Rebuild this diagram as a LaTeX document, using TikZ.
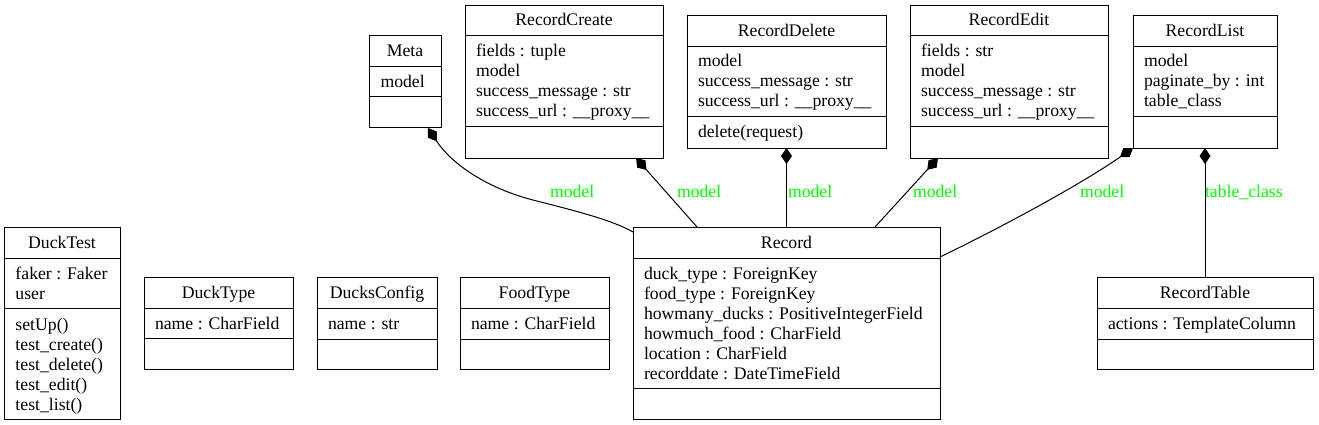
\documentclass[tikz,border=0pt]{standalone}
\usepackage{fontspec}
\setmainfont{Liberation Serif}
\usetikzlibrary{arrows.meta}
\definecolor{lblgreen}{RGB}{0,255,0}
\tikzset{
  classbox/.style={draw=black, line width=1pt, inner sep=0pt, outer sep=0pt, fill=white},
  classline/.style={draw=black, line width=1pt},
  txt/.style={inner sep=0pt, outer sep=0pt, font=\fontsize{17.7}{20}\selectfont},
  elabel/.style={txt, text=lblgreen, anchor=base west},
  comp/.style={draw=black, line width=1pt, {Diamond[length=16pt,width=11pt]}-},
}
\newcommand\umlbox[8]{%
  \node[classbox, minimum width={#4-#2}, minimum height={#5-#3}] (#1) at ({(#2+#4)/2},{(#3+#5)/2}) {};
  \node[txt, anchor=base] (#1-title) at ({(#2+#4)/2},{#6-10}) {#8};
  \draw[classline] (#2,#6) -- (#4,#6);
  \draw[classline] (#2,#7) -- (#4,#7);
}
\newcommand\umlrows[4]{%
  \foreach \t [count=\i from 0] in {#4} {\node[txt, anchor=base west] (#1\i) at (#2, {#3+20*\i}) {\t};}
}
\begin{document}
\begin{tikzpicture}[x=1pt, y=-1pt]
\useasboundingbox (0,0) rectangle (1319,425);

% classes
\umlbox{dt}{4}{227}{120}{419}{258}{308}{DuckTest}
\umlrows{dt-a}{15.5}{279}{faker : Faker, user}
\umlrows{dt-m}{15.5}{330}{setUp(), test\_create(), test\_delete(), test\_edit(), test\_list()}

\umlbox{dty}{144}{277}{293}{369}{308}{338}{DuckType}
\umlrows{dty-a}{155}{329}{name : CharField}

\umlbox{dc}{317}{277}{437}{369}{308}{339}{DucksConfig}
\umlrows{dc-a}{328}{329}{name : str}

\umlbox{ft}{460}{277}{609}{369}{308}{339}{FoodType}
\umlrows{ft-a}{471}{329}{name : CharField}

\umlbox{meta}{369}{36}{441}{128}{67}{97}{Meta}
\umlrows{meta-a}{380.5}{88}{model}

\umlbox{rc}{465}{6}{663}{158}{36}{127}{RecordCreate}
\umlrows{rc-a}{476}{57}{fields : tuple, model, success\_message : str, success\_url : \_\_proxy\_\_}

\umlbox{rd}{687}{16}{886}{148}{47}{117}{RecordDelete}
\umlrows{rd-a}{698}{67}{model, success\_message : str, success\_url : \_\_proxy\_\_}
\umlrows{rd-m}{698}{138}{delete(request)}

\umlbox{re}{910}{6}{1108}{158}{36}{127}{RecordEdit}
\umlrows{re-a}{921}{57}{fields : str, model, success\_message : str, success\_url : \_\_proxy\_\_}

\umlbox{rl}{1133}{16}{1277}{148}{47}{117}{RecordList}
\umlrows{rl-a}{1144}{67}{model, paginate\_by : int, table\_class}

\umlbox{rec}{633}{227}{940}{419}{258}{388}{Record}
\umlrows{rec-a}{644}{279}{duck\_type : ForeignKey, food\_type : ForeignKey, howmany\_ducks : PositiveIntegerField, howmuch\_food : CharField, location : CharField, recorddate : DateTimeField}

\umlbox{rt}{1097}{277}{1313}{369}{308}{339}{RecordTable}
\umlrows{rt-a}{1108}{329}{actions : TemplateColumn}

% connectors
\draw[comp] ([xshift=23pt]meta.south) .. controls (453,166) and (490,189) .. (533,200)
   .. controls (576,211) and (612,220) .. ([yshift=-5pt]rec.north west);
\draw[comp] ([xshift=72pt]rc.south) -- ([xshift=64pt]rec.north west);
\draw[comp] (rd.south) -- (rec.north);
\draw[comp] ([xshift=-71pt]re.south) -- ([xshift=88.5pt]rec.north);
\draw[comp] (rl.south west) .. controls (1080,185) and (1000,228) .. ([yshift=-30pt]rec.north east);
\draw[comp] (rl.south) -- (rt.north);

% labels
\node[elabel] (l1) at (550,197) {model};
\node[elabel] (l2) at (677,197) {model};
\node[elabel] (l3) at (788,197) {model};
\node[elabel] (l4) at (913,197) {model};
\node[elabel] (l5) at (1080,197) {model};
\node[elabel] (l6) at (1205,197) {table\_class};
\end{tikzpicture}
\end{document}
